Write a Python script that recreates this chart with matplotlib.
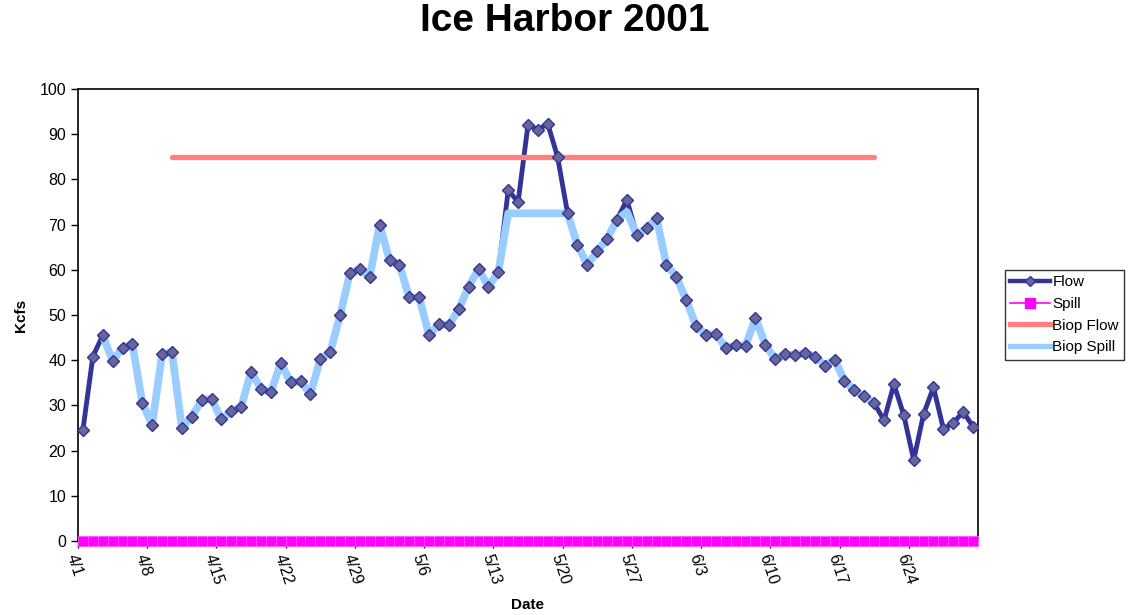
import matplotlib.pyplot as plt
import numpy as np

plt.rcParams['font.family'] = ['Liberation Sans', 'DejaVu Sans']

# daily values 4/1 - 6/30
flow = [24.6, 40.8, 45.5, 39.9, 42.7, 43.6, 30.6, 25.7, 41.3, 41.8,
        25.0, 27.5, 31.1, 31.5, 26.9, 28.7, 29.7, 37.4, 33.7, 32.9,
        39.4, 35.1, 35.3, 32.5, 40.2, 41.8, 49.9, 59.3, 60.2, 58.5,
        70.0, 62.1, 61.1, 53.9, 53.9, 45.5, 48.0, 47.7, 51.3, 56.3,
        60.2, 56.3, 59.5, 77.6, 75.0, 92.1, 91.0, 92.3, 84.9, 72.5,
        65.5, 61.1, 64.1, 66.9, 71.1, 75.5, 67.7, 69.2, 71.4, 61.1,
        58.5, 53.3, 47.6, 45.6, 45.8, 42.7, 43.3, 43.2, 49.3, 43.4,
        40.2, 41.3, 41.1, 41.6, 40.8, 38.8, 40.1, 35.5, 33.3, 32.0,
        30.5, 26.7, 34.7, 27.8, 17.9, 28.1, 34.0, 24.8, 26.1, 28.6,
        25.3]
spill = [0.0] * 91
biop_flow_level = 85.0
biop_flow_days = (9, 80)      # 4/10 - 6/20
biop_spill_days = (2, 80)     # 4/3 - 6/20
spill_cap = 72.5

n = len(flow)
x = np.arange(n) + 0.5
flow = np.array(flow)

biop_flow = np.full(n, np.nan)
biop_flow[biop_flow_days[0]:biop_flow_days[1] + 1] = biop_flow_level

biop_spill = np.full(n, np.nan)
s0, s1 = biop_spill_days
biop_spill[s0:s1 + 1] = np.minimum(flow[s0:s1 + 1], spill_cap)
biop_spill[55] = 72.8

tick_pos = np.arange(0, n, 7)
tick_lab = ['4/1', '4/8', '4/15', '4/22', '4/29', '5/6', '5/13', '5/20',
            '5/27', '6/3', '6/10', '6/17', '6/24']

fig = plt.figure(figsize=(11.35, 6.15), dpi=100)
ax = fig.add_axes([78 / 1135, 1 - 541 / 615, 900 / 1135, 452 / 615])

navy = '#333399'
ax.plot(x, flow, color=navy, lw=3.5, zorder=3, solid_joinstyle='round')
ax.plot(x, biop_flow, color='#FF8080', lw=3.8, zorder=4, solid_capstyle='round')
ax.plot(x, biop_spill, color='#99CCFF', lw=5.5, zorder=5, solid_joinstyle='round')
ax.plot(x, flow, ls='none', marker='D', ms=6, mfc='#666699', mec=navy,
        mew=1.0, zorder=6)
ax.plot(x, spill, ls='none', marker='s', ms=7.6, mfc='#FF00FF', mec='#FF55FF',
        mew=0.6, zorder=7, clip_on=False)

# legend proxies
h_flow, = ax.plot([], [], color=navy, lw=3.2, marker='D', ms=5,
                  mfc='#666699', mec=navy)
h_spill, = ax.plot([], [], color='#FF00FF', lw=1.2, marker='s', ms=7,
                   mfc='#FF00FF', mec='#FF00FF')
h_bf, = ax.plot([], [], color='#FF8080', lw=3.8)
h_bs, = ax.plot([], [], color='#99CCFF', lw=3.8)
leg = fig.legend([h_flow, h_spill, h_bf, h_bs],
                 ['Flow', 'Spill', 'Biop Flow', 'Biop Spill'],
                 loc='upper left', bbox_to_anchor=(1005 / 1135, 1 - 270 / 615),
                 frameon=True, fancybox=False, fontsize=11, handlelength=2.6,
                 handletextpad=0.15, borderpad=0.35, labelspacing=0.5,
                 borderaxespad=0)
leg.get_frame().set_edgecolor('black')
leg.get_frame().set_linewidth(1.0)

ax.set_xlim(0, n)
ax.set_ylim(0, 100)
ax.set_yticks(np.arange(0, 101, 10))
ax.set_xticks(tick_pos)
ax.set_xticklabels(tick_lab, rotation=-72, ha='left', va='top',
                   rotation_mode='anchor')
ax.tick_params(axis='both', direction='out', length=5, width=1,
               labelsize=11.5)
ax.tick_params(axis='x', pad=3)
for s in ax.spines.values():
    s.set_linewidth(1.2)

ax.set_ylabel('Kcfs', fontsize=11, fontweight='bold', labelpad=8)
ax.set_xlabel('Date', fontsize=11, fontweight='bold', labelpad=8)
fig.text(0.498, 0.966, 'Ice Harbor 2001', ha='center', va='center',
         fontsize=28, fontweight='bold')

fig.savefig('out.png', dpi=100)
